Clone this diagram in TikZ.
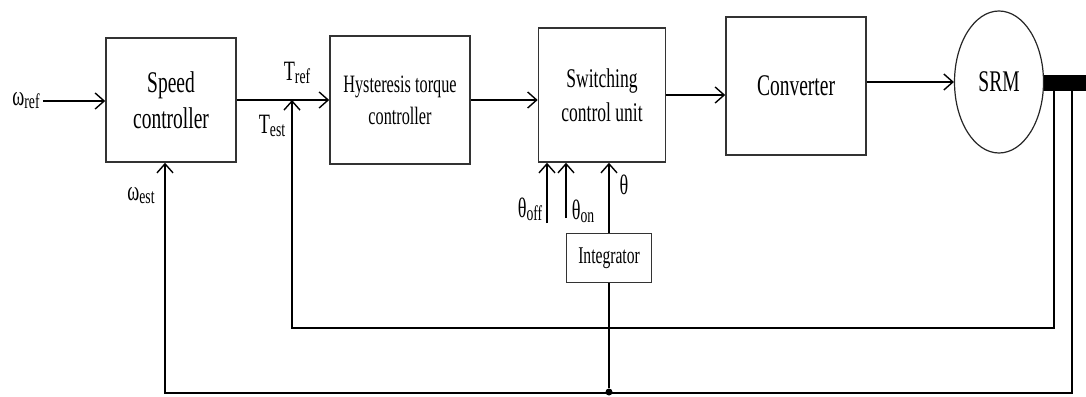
\documentclass[tikz,border=0pt]{standalone}
\usepackage{fontspec}
\setmainfont{Liberation Serif}[FakeStretch=0.65]
\usetikzlibrary{arrows.meta,positioning,shapes.geometric}
\newcommand\lsub[2]{#1\raisebox{-3pt}{\fontsize{21}{21}\selectfont #2}}

\begin{document}
\begin{tikzpicture}[x=1pt,y=-1pt,
  blk/.style={draw=black!80, line width=1.6pt, inner sep=0pt, align=center, font=\fontsize{30}{36}\selectfont},
  sig/.style={line width=1.4pt, -{Straight Barb[length=9pt,width=16pt]}},
  wire/.style={line width=1.4pt},
  lbl/.style={inner sep=0pt, font=\fontsize{28}{30}\selectfont}]
  \useasboundingbox (0,0) rectangle (1086,396);

  %--- Blocks ---
  \node[blk, minimum width=130pt, minimum height=124pt] (spd) at (171,100) {Speed\\controller};
  \node[blk, minimum width=140pt, minimum height=128pt, font=\fontsize{25}{32}\selectfont] (htc) at (400,100) {Hysteresis torque\\controller};
  \node[blk, minimum width=127pt, minimum height=134pt, font=\fontsize{27}{34}\selectfont] (scu) at (602,95) {Switching\\control unit};
  \node[blk, minimum width=140pt, minimum height=138pt] (conv) at (796,86) {Converter};
  \node[blk, ellipse, draw=black!85, line width=1.2pt, minimum width=89pt, minimum height=142pt] (srm) at (999,82) {SRM};
  \node[fill=black, inner sep=0pt, minimum width=42pt, minimum height=16pt] (shaft) at (1065,83) {};
  \node[blk, minimum width=85pt, minimum height=49pt, font=\fontsize{24}{24}\selectfont] (integ) at (609,258) {Integrator};

  %--- Labels ---
  \node[lbl] (wref) at (26,101) {\lsub{ω}{ref}};
  \node[lbl] (tref) at (297,73) {\lsub{T}{ref}};
  \node[lbl] (test) at (272,126) {\lsub{T}{est}};
  \node[lbl] (west) at (141,196) {\lsub{ω}{est}};
  \node[lbl] (thoff) at (530,209) {\lsub{θ}{off}};
  \node[lbl] (thon) at (583,211) {\lsub{θ}{on}};
  \node[lbl] (th) at (624,185) {θ};

  %--- Forward path ---
  \draw[sig] ([xshift=3pt]wref.east) -- (wref.east -| spd.west);
  \draw[sig] (spd.east) -- (htc.west);
  \draw[sig] (htc.east) -- (htc.east -| scu.west);
  \draw[sig] (scu.east) -- (scu.east -| conv.west);
  \draw[sig] (srm.west -| conv.east) -- (srm.west);

  %--- Switching angles ---
  \coordinate (toff) at (547,223);
  \coordinate (ton) at (566,218);
  \draw[sig] (toff) -- (toff |- scu.south);
  \draw[sig] (ton) -- (ton |- scu.south);
  \draw[sig] (integ.north) -- (integ.north |- scu.south);

  %--- Feedback loops ---
  \coordinate (fbA) at (1054,91);
  \coordinate (fbB) at (1072,91);
  \coordinate (tfb) at (292,328);
  \coordinate (wfb) at (165,393);
  \node[circle, fill=black, inner sep=0pt, minimum size=7pt] (dot) at (609,392) {};
  \draw[sig] (fbA) |- (tfb) -- (tfb |- spd.east);
  \draw[sig] (fbB) |- (wfb) -- (wfb |- spd.south);
  \draw[wire] (dot) -- (integ.south);
\end{tikzpicture}
\end{document}
